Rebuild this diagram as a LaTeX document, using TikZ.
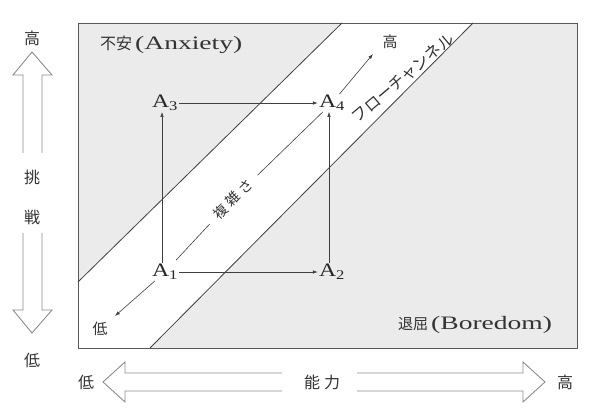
\documentclass[tikz,border=0pt]{standalone}
\usepackage{fontspec}
\setmainfont{Liberation Serif}[FakeStretch=1.25]
\newfontfamily\widelat{Liberation Serif}[FakeStretch=1.45]
\newfontfamily\cjk{Noto Sans CJK JP}
\usetikzlibrary{arrows.meta}
\tikzset{
  zone/.style={fill=black!8},
  frame/.style={draw=black!65, line width=0.9pt},
  chan/.style={draw=black!75, line width=0.8pt},
  hollow/.style={draw=black!45, line width=0.9pt, line join=miter},
  conn/.style={draw=black!75, line width=0.6pt, -{Latex[length=5pt,width=3.5pt]}},
  plain/.style={draw=black!75, line width=0.6pt},
  anode/.style={inner sep=1pt, text=black!85, font=\fontsize{19}{19}\selectfont},
  jlab/.style={inner sep=0pt, text=black!80, font=\cjk\fontsize{16}{16}\selectfont},
  zonelab/.style={inner sep=0pt, text=black!80, anchor=west},
}
\begin{document}
\begin{tikzpicture}[x=1pt,y=-1pt]
\useasboundingbox (0,0) rectangle (590,414);
\fill[white] (0,0) rectangle (590,414);
% zones
\fill[zone] (78,23) -- (342,23) -- (78,282) -- cycle;
\fill[zone] (473,23) -- (577,23) -- (577,348) -- (150,348) -- cycle;
\draw[frame] (78,23) rectangle (577,348);
\draw[chan] (78,282) -- (342,23);
\draw[chan] (150,348) -- (473,23);
% zone labels
\node[zonelab] (anx) at (100,45) {{\cjk\fontsize{16}{16}\selectfont 不安}\hspace{3pt}{\widelat\fontsize{19}{19}\selectfont(Anxiety)}};
\node[zonelab] (bor) at (398,325) {{\cjk\fontsize{15}{15}\selectfont 退屈}\hspace{3pt}{\widelat\fontsize{19}{19}\selectfont(Boredom)}};
\node[jlab, rotate=40, font=\cjk\fontsize{16}{16}\selectfont] (fc) at (403,78) {フローチャンネル};
% A nodes
\node[anode] (a1) at (165,272) {A\textsubscript{1}};
\node[anode] (a2) at (332,272) {A\textsubscript{2}};
\node[anode] (a3) at (165,103) {A\textsubscript{3}};
\node[anode] (a4) at (332,103) {A\textsubscript{4}};
\draw[conn] ([xshift=-3pt]a1.north) -- ([xshift=-3pt]a3.south);
\draw[conn] ([xshift=-3pt]a2.north) -- ([xshift=-3pt]a4.south);
\draw[conn] (a1.east) -- (a2.west);
\draw[conn] (a3.east) -- (a4.west);
% complexity diagonal
\node[jlab, rotate=45, inner xsep=9pt, inner ysep=2pt, font=\cjk\fontsize{14}{14}\selectfont] (cx) at (233,199) {複\hspace{4pt}雑\hspace{4pt}さ};
\coordinate (loend) at (115,316);
\coordinate (hiend) at (373,54);
\node[jlab, font=\cjk\fontsize{15}{15}\selectfont] (loD) at (100,329) {低};
\node[jlab, font=\cjk\fontsize{15}{15}\selectfont] (hiD) at (390,42) {高};
\draw[plain, shorten <=4pt] (a1) -- (cx);
\draw[plain] (cx) -- (a4);
\draw[conn] (a1) -- (loend);
\draw[conn] (a4) -- (hiend);
% left axis
\node[jlab] (hiY) at (32,38) {高};
\node[jlab] (tyo) at (32,177) {挑};
\node[jlab] (sen) at (32,217) {戦};
\node[jlab] (loY) at (32,360) {低};
\draw[hollow] (23,153) -- (23,75) -- (13,75) -- (32,52) -- (52,75) -- (42,75) -- (42,153);
\draw[hollow] (23,233) -- (23,310) -- (13,310) -- (32,333) -- (52,310) -- (42,310) -- (42,233);
% bottom axis
\node[jlab] (loX) at (86,382) {低};
\node[jlab] (abil) at (322,382) {能\hspace{4pt}力};
\node[jlab] (hiX) at (565,382) {高};
\draw[hollow] (282,373) -- (125,373) -- (125,362) -- (103,382) -- (125,402) -- (125,391) -- (282,391);
\draw[hollow] (357,373) -- (523,373) -- (523,362) -- (545,382) -- (523,402) -- (523,391) -- (357,391);
\end{tikzpicture}
\end{document}
